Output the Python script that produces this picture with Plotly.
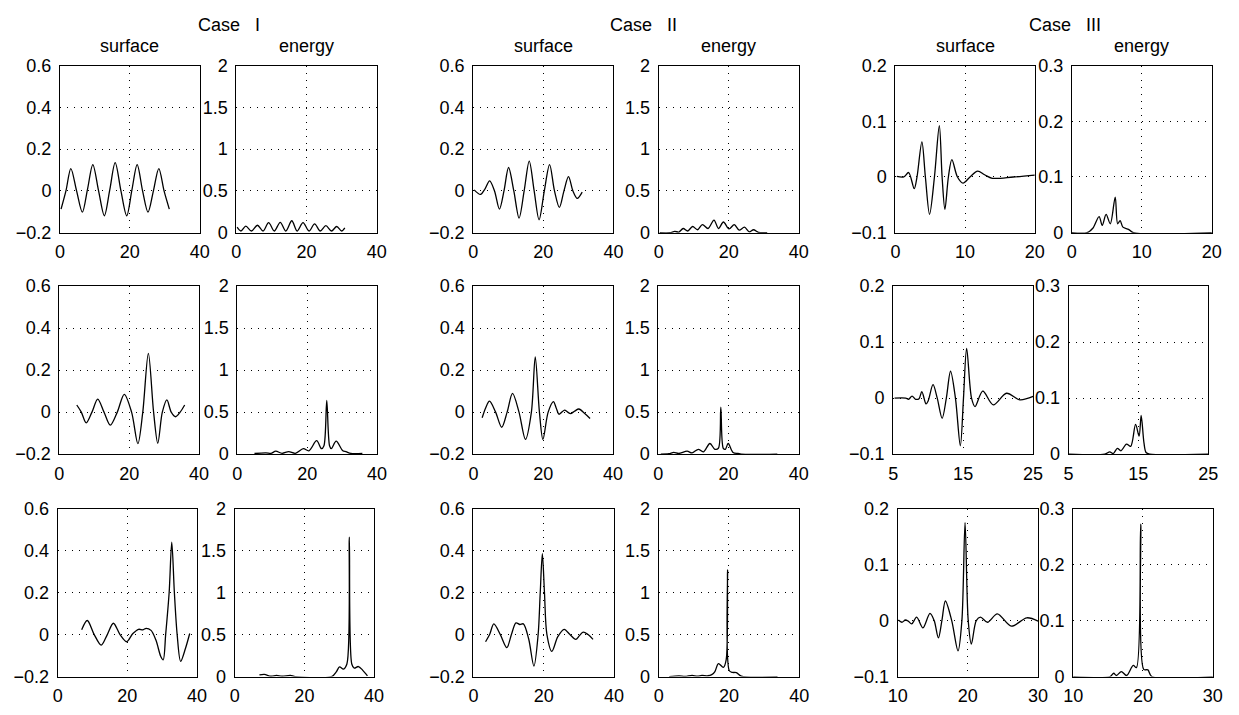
import plotly.graph_objects as go

# ---------------- data ----------------
case_titles = ["Case\u00a0\u00a0\u00a0I", "Case\u00a0\u00a0\u00a0II", "Case\u00a0\u00a0\u00a0III"]
col_titles = ["surface", "energy"]

ticks_x_40 = [0, 20, 40]
ticks_x_c3 = [[0, 10, 20], [5, 15, 25], [10, 20, 30]]
ticks_surf_12 = [-0.2, 0, 0.2, 0.4, 0.6]
ticks_energy_12 = [0, 0.5, 1, 1.5, 2]
ticks_surf_3 = [-0.1, 0, 0.1, 0.2]
ticks_energy_3 = [0, 0.1, 0.2, 0.3]

# Case I, row 1
c1r1_surf_x = [0.3, 1.7, 3.1, 4.75, 6.4, 7.9, 9.4, 11.05, 12.7, 14.25, 15.8, 17.45, 19.1, 20.6, 22.1, 23.65, 25.2, 26.75, 28.3, 29.8, 31.3]
c1r1_surf_y = [-0.087, 0.0, 0.107, 0.0, -0.102, 0.01, 0.126, 0.0, -0.119, 0.005, 0.135, 0.0, -0.119, 0.005, 0.126, 0.0, -0.102, 0.0, 0.107, 0.0, -0.087]
c1r1_en_x = [0.2, 1.3, 2.7, 4.3, 6.0, 7.6, 9.2, 10.8, 12.5, 14.1, 15.8, 17.3, 19.0, 20.7, 22.3, 23.9, 25.5, 27.1, 28.6, 30.0, 30.9]
c1r1_en_y = [0.066, 0.02, 0.078, 0.02, 0.089, 0.02, 0.12, 0.02, 0.124, 0.02, 0.143, 0.02, 0.12, 0.02, 0.105, 0.02, 0.085, 0.02, 0.074, 0.02, 0.058]

# Case II, row 1
c2r1_surf_x = [0.3, 2.1, 3.4, 4.7, 6.1, 7.5, 8.8, 10.1, 11.6, 13.1, 14.55, 16.0, 17.4, 18.8, 20.3, 21.8, 23.2, 24.6, 25.9, 27.2, 28.45, 29.7, 31.1]
c2r1_surf_y = [0.005, -0.017, 0.01, 0.048, 0.0, -0.087, 0.0, 0.112, 0.0, -0.13, 0.0, 0.143, 0.0, -0.138, 0.0, 0.126, 0.0, -0.079, 0.0, 0.068, 0.0, -0.036, -0.006]
c2r1_en_x = [0.3, 3.2, 4.6, 5.8, 7.0, 8.3, 9.7, 11.1, 12.5, 14.1, 15.8, 17.1, 18.5, 20.1, 21.6, 23.0, 24.5, 25.9, 27.1, 28.5, 31.0]
c2r1_en_y = [0.0, 0.0, 0.015, 0.008, 0.05, 0.02, 0.074, 0.035, 0.097, 0.05, 0.15, 0.05, 0.128, 0.045, 0.097, 0.03, 0.066, 0.01, 0.035, 0.004, 0.0]

# Case III, row 1
c3r1_surf_x = [0.2, 1.2, 1.9, 2.7, 3.1, 3.8, 4.3, 4.9, 5.6, 6.3, 6.7, 7.1, 7.6, 8.1, 8.9, 9.7, 10.7, 11.8, 12.8, 13.9, 16.9, 20.0]
c3r1_surf_y = [0.001, 0.0, 0.008, -0.021, 0.0, 0.063, 0.0, -0.067, 0.0, 0.092, 0.0, -0.058, 0.0, 0.031, 0.0, -0.011, 0.0, 0.0105, 0.004, -0.0023, 0.0, 0.0035]
c3r1_en_x = [0.0, 2.2, 3.0, 3.9, 4.35, 4.9, 5.5, 6.2, 6.55, 6.9, 7.3, 8.1, 8.8, 20.0]
c3r1_en_y = [0.0, 0.0, 0.008, 0.029, 0.013, 0.033, 0.016, 0.064, 0.016, 0.0215, 0.01, 0.006, 0.0, 0.0]

# Case I, row 2
c1r2_surf_x = [5.0, 6.3, 7.7, 9.35, 11.0, 12.8, 14.6, 16.6, 18.6, 20.7, 22.5, 23.9, 25.5, 27.0, 28.2, 29.5, 30.8, 32.05, 33.3, 34.6, 35.9]
c1r2_surf_y = [0.034, 0.0, -0.051, 0.0, 0.062, 0.0, -0.062, 0.0, 0.085, 0.0, -0.15, 0.0, 0.28, 0.0, -0.148, 0.0, 0.058, 0.0, -0.022, 0.0, 0.034]
c1r2_en_x = [4.9, 8.2, 9.6, 11.0, 12.8, 14.7, 16.6, 18.9, 20.5, 22.7, 24.1, 24.8, 25.6, 26.4, 26.9, 28.3, 30.2, 31.1, 32.5, 35.8]
c1r2_en_y = [0.008, 0.015, 0.008, 0.035, 0.01, 0.03, 0.01, 0.065, 0.04, 0.16, 0.065, 0.1, 0.64, 0.1, 0.065, 0.154, 0.04, 0.03, 0.008, 0.008]

# Case II, row 2
c2r2_surf_x = [2.5, 3.5, 4.6, 6.35, 8.1, 9.65, 11.2, 13.05, 14.9, 16.6, 17.7, 18.9, 19.9, 21.4, 22.9, 23.7, 24.5, 25.3, 26.1, 27.0, 27.8, 29.0, 30.2, 31.8, 33.4]
c2r2_surf_y = [-0.027, 0.02, 0.052, 0.0, -0.072, 0.0, 0.089, 0.0, -0.13, 0.0, 0.263, 0.0, -0.13, 0.0, 0.05, 0.02, -0.01, 0.0, 0.01, 0.0, -0.007, 0.005, 0.015, -0.005, -0.03]
c2r2_en_x = [0.7, 3.0, 4.4, 5.8, 8.2, 9.6, 11.4, 12.8, 14.7, 16.1, 17.1, 17.8, 18.5, 19.1, 19.9, 21.3, 22.7, 23.6, 33.9]
c2r2_en_y = [0.0, 0.005, 0.02, 0.008, 0.035, 0.015, 0.058, 0.027, 0.127, 0.058, 0.07, 0.56, 0.07, 0.058, 0.127, 0.02, 0.008, 0.0, 0.0]

# Case III, row 2
c3r2_surf_x = [5.2, 6.8, 7.2, 7.7, 8.2, 8.7, 9.1, 9.7, 10.0, 10.7, 11.3, 12.0, 12.6, 13.2, 13.9, 14.6, 15.05, 15.5, 16.2, 16.7, 17.8, 19.3, 21.2, 23.1, 25.0]
c3r2_surf_y = [0.0, 0.0, -0.002, 0.0035, -0.002, -0.001, 0.0115, -0.0104, -0.005, 0.024, 0.0, -0.036, 0.0, 0.048, 0.0, -0.085, 0.0, 0.089, 0.0, -0.015, 0.0127, -0.012, 0.0087, -0.003, 0.003]
c3r2_en_x = [5.0, 10.2, 10.9, 11.4, 12.0, 12.5, 13.3, 13.9, 14.6, 15.1, 15.4, 15.8, 16.1, 16.6, 25.0]
c3r2_en_y = [0.0, 0.0, 0.004, 0.001, 0.0104, 0.006, 0.018, 0.014, 0.053, 0.032, 0.069, 0.02, 0.003, 0.0, 0.0]

# Case I, row 3
c1r3_surf_x = [6.9, 8.5, 10.5, 12.5, 14.25, 16.0, 17.9, 19.8, 21.6, 23.2, 24.5, 25.4, 26.8, 28.2, 29.6, 30.3, 31.0, 32.0, 32.75, 33.5, 34.3, 35.3, 36.7, 37.9]
c1r3_surf_y = [0.023, 0.067, 0.0, -0.05, 0.0, 0.054, 0.0, -0.034, 0.005, 0.025, 0.023, 0.03, 0.02, -0.026, -0.104, -0.12, 0.0, 0.2, 0.44, 0.2, 0.0, -0.127, -0.065, 0.005]
c1r3_en_x = [7.1, 8.5, 10.4, 12.0, 13.6, 16.0, 17.4, 27.8, 29.2, 30.1, 31.2, 32.2, 32.9, 33.6, 34.3, 35.5, 36.7, 38.1]
c1r3_en_y = [0.02, 0.027, 0.004, 0.015, 0.004, 0.015, 0.0, 0.0, 0.06, 0.116, 0.09, 0.15, 1.66, 0.15, 0.1, 0.12, 0.077, 0.008]

# Case II, row 3
c2r3_surf_x = [3.45, 4.6, 5.8, 7.65, 9.5, 10.8, 12.1, 13.2, 14.2, 15.7, 17.2, 18.4, 19.0, 19.6, 20.2, 20.9, 22.3, 24.0, 25.8, 27.45, 29.1, 30.15, 31.2, 32.6, 34.0]
c2r3_surf_y = [-0.034, 0.0, 0.051, 0.0, -0.062, 0.0, 0.056, 0.048, 0.051, -0.02, -0.15, 0.0, 0.2, 0.385, 0.2, 0.0, -0.08, -0.01, 0.025, 0.0, -0.023, -0.005, 0.012, 0.0, -0.023]
c2r3_en_x = [3.0, 5.8, 7.5, 9.5, 11.0, 12.3, 14.0, 15.1, 16.0, 17.0, 18.4, 19.2, 19.6, 20.1, 21.0, 22.1, 23.5, 33.8]
c2r3_en_y = [0.0, 0.008, 0.002, 0.015, 0.005, 0.015, 0.01, 0.023, 0.06, 0.155, 0.11, 0.2, 1.27, 0.07, 0.05, 0.047, 0.005, 0.0]

# Case III, row 3
c3r3_surf_x = [10.1, 10.6, 11.1, 11.5, 12.0, 12.7, 13.6, 14.6, 15.2, 15.8, 16.3, 16.8, 17.7, 18.6, 19.15, 19.6, 20.05, 20.5, 21.2, 21.8, 22.8, 24.2, 26.2, 28.4, 30.0]
c3r3_surf_y = [0.001, -0.003, 0.001, -0.001, -0.006, 0.006, -0.013, 0.013, 0.0, -0.031, 0.0, 0.035, 0.0, -0.054, 0.0, 0.175, 0.0, -0.042, 0.0, 0.006, -0.003, 0.012, -0.010, 0.005, -0.001]
c3r3_en_x = [10.0, 15.3, 15.8, 16.2, 16.9, 17.65, 18.6, 19.06, 19.67, 20.1, 20.7, 21.27, 30.0]
c3r3_en_y = [0.0, 0.0, 0.006, 0.002, 0.009, 0.002, 0.02, 0.016, 0.272, 0.013, 0.012, 0.0, 0.0]

# ---------------- layout geometry ----------------
# The page keeps the browser's 8px body margin, so the figure occupies
# the window minus 8px on every side.
OX, OY = 8, 8
PW, PH = 1239 - 16, 715 - 16


def fx(px):
    return (px - OX) / PW


def fy(py):
    return 1 - (py - OY) / PH


row_px = [(57, 229), (284, 457), (513, 686)]
col_px = [
    [(50.7, 192.7), (230, 372.7), (470.7, 613.3), (659.3, 801.7), (900, 1041.7), (1079.3, 1221.7)],
    [(50, 192), (231, 373), (471, 613), (659, 801.7), (897.7, 1040), (1076, 1218)],
    [(48.3, 190), (228.3, 370), (471, 614), (659.3, 802.3), (902.3, 1045), (1080.7, 1222.7)],
]

series = [
    [(c1r1_surf_x, c1r1_surf_y), (c1r1_en_x, c1r1_en_y), (c2r1_surf_x, c2r1_surf_y), (c2r1_en_x, c2r1_en_y), (c3r1_surf_x, c3r1_surf_y), (c3r1_en_x, c3r1_en_y)],
    [(c1r2_surf_x, c1r2_surf_y), (c1r2_en_x, c1r2_en_y), (c2r2_surf_x, c2r2_surf_y), (c2r2_en_x, c2r2_en_y), (c3r2_surf_x, c3r2_surf_y), (c3r2_en_x, c3r2_en_y)],
    [(c1r3_surf_x, c1r3_surf_y), (c1r3_en_x, c1r3_en_y), (c2r3_surf_x, c2r3_surf_y), (c2r3_en_x, c2r3_en_y), (c3r3_surf_x, c3r3_surf_y), (c3r3_en_x, c3r3_en_y)],
]

FONT = "Liberation Sans, Arial, Helvetica, sans-serif"
fig = go.Figure()
layout = dict(
    width=PW, height=PH, autosize=False,
    margin=dict(l=0, r=0, t=0, b=0),
    paper_bgcolor="white", plot_bgcolor="white",
    showlegend=False,
    font=dict(family=FONT, size=18, color="black"),
)

for r in range(3):
    for c in range(6):
        k = r * 6 + c + 1
        xs, ys = series[r][c]
        xa = "x" if k == 1 else f"x{k}"
        ya = "y" if k == 1 else f"y{k}"
        fig.add_trace(go.Scatter(x=xs, y=ys, mode="lines", xaxis=xa, yaxis=ya,
                                 line=dict(color="black", width=1.3, shape="spline", smoothing=0.9),
                                 hoverinfo="skip"))
        case = c // 2
        is_energy = c % 2 == 1
        if case < 2:
            xt = ticks_x_40
            yt = ticks_energy_12 if is_energy else ticks_surf_12
        else:
            xt = ticks_x_c3[r]
            yt = ticks_energy_3 if is_energy else ticks_surf_3
        x0, x1 = col_px[r][c]
        y0, y1 = row_px[r]
        common = dict(showline=True, mirror=True, linecolor="black", linewidth=1,
                      showgrid=True, gridcolor="black", gridwidth=1, griddash="1px,6px",
                      zeroline=False, ticks="", tickfont=dict(family=FONT, size=18, color="black"))
        layout["xaxis" if k == 1 else f"xaxis{k}"] = dict(
            domain=[fx(x0), fx(x1)], range=[xt[0], xt[-1]], tickvals=xt,
            anchor=ya, ticklabelstandoff=3, **common)
        layout["yaxis" if k == 1 else f"yaxis{k}"] = dict(
            domain=[fy(y1), fy(y0)], range=[yt[0], yt[-1]], tickvals=yt,
            anchor=xa, ticklabelstandoff=4, **common)

ann = []
case_cx = [222, 644, 1072]
for i, t in enumerate(case_titles):
    ann.append(dict(text=t, x=fx(case_cx[i]), y=fy(15), xref="paper", yref="paper",
                    xanchor="center", yanchor="middle", showarrow=False,
                    font=dict(family=FONT, size=18, color="black")))
for c in range(6):
    x0, x1 = col_px[0][c]
    ann.append(dict(text=col_titles[c % 2], x=fx((x0 + x1) / 2), y=fy(37),
                    xref="paper", yref="paper", xanchor="center", yanchor="middle",
                    showarrow=False, font=dict(family=FONT, size=18, color="black")))
layout["annotations"] = ann
fig.update_layout(**layout)

fig.write_html("out.html", config={"displayModeBar": False})
